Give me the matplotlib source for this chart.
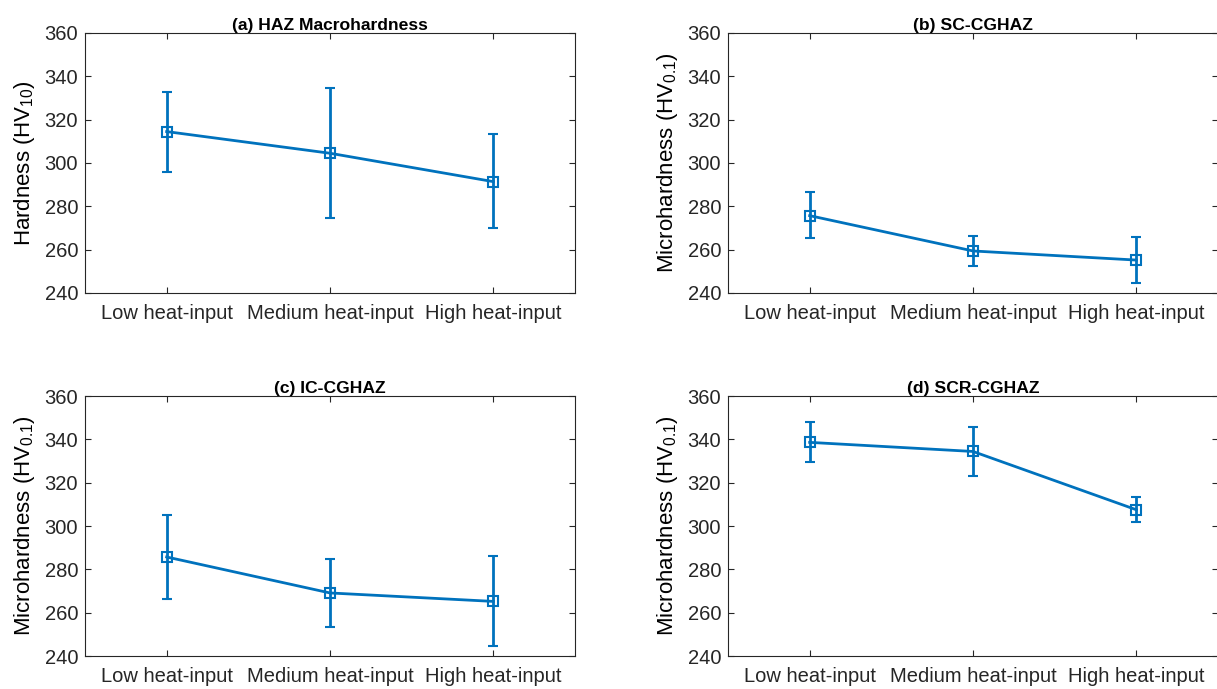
"""
Hardness across the HAZ for three heat inputs
"""

import numpy as np
import matplotlib.pyplot as plt

plt.rcParams['font.family'] = ['Liberation Sans', 'DejaVu Sans']
plt.rcParams['mathtext.fontset'] = 'custom'
plt.rcParams['mathtext.rm'] = 'Liberation Sans'

categories = ['Low heat-input', 'Medium heat-input', 'High heat-input']

# mean values with upper / lower error bar ends
haz_mean = [314.5, 304.5, 291.4]
haz_hi = [333.0, 334.5, 313.2]
haz_lo = [296.0, 274.8, 269.9]

sc_mean = [275.7, 259.4, 255.2]
sc_hi = [286.5, 266.5, 266.0]
sc_lo = [265.2, 252.5, 244.5]

ic_mean = [285.7, 269.1, 265.2]
ic_hi = [305.2, 284.9, 286.0]
ic_lo = [266.2, 253.4, 244.5]

scr_mean = [338.6, 334.4, 307.5]
scr_hi = [348.0, 345.7, 313.2]
scr_lo = [329.4, 323.2, 302.0]

titles = ['(a) HAZ Macrohardness', '(b) SC-CGHAZ', '(c) IC-CGHAZ', '(d) SCR-CGHAZ']
ylabels = ['Hardness (HV$\\mathrm{_{10}}$)', 'Microhardness (HV$\\mathrm{_{0.1}}$)',
           'Microhardness (HV$\\mathrm{_{0.1}}$)', 'Microhardness (HV$\\mathrm{_{0.1}}$)']
series = [(haz_mean, haz_hi, haz_lo), (sc_mean, sc_hi, sc_lo),
          (ic_mean, ic_hi, ic_lo), (scr_mean, scr_hi, scr_lo)]

blue = '#0072BD'
dark = '#262626'
W, H = 1217, 689
# axes boxes in pixels: left, bottom(from top), width, height
boxes = [(85, 293, 490, 260), (728, 293, 490, 260),
         (85, 656, 490, 260), (728, 656, 490, 260)]

fig = plt.figure(figsize=(W/100, H/100), dpi=100)
x = np.arange(1, 4)

for (l, b, w, h), t, yl, (m, hi, lo) in zip(boxes, titles, ylabels, series):
    ax = fig.add_axes([l/W, (H-b)/H, w/W, h/H])
    m = np.array(m); hi = np.array(hi); lo = np.array(lo)
    ax.errorbar(x, m, yerr=[m-lo, hi-m], color=blue, lw=2, marker='s',
                ms=7, mfc='none', mew=1.5, capsize=3.5, capthick=2, elinewidth=2)
    ax.set_xlim(0.5, 3.5)
    ax.set_ylim(240, 360)
    ax.set_yticks(np.arange(240, 361, 20))
    ax.set_xticks(x)
    ax.set_xticklabels(categories)
    ax.tick_params(direction='in', length=4, width=0.8, colors=dark,
                   labelsize=14.5, top=True, right=True, pad=5)
    ax.tick_params(axis='x', pad=8)
    for s in ax.spines.values():
        s.set_color(dark)
        s.set_linewidth(0.8)
    ax.set_title(t, fontsize=12.6, fontweight='bold', pad=2)
    ax.set_ylabel(yl, fontsize=16, color='black', labelpad=5)

plt.savefig('out.png', dpi=100)
